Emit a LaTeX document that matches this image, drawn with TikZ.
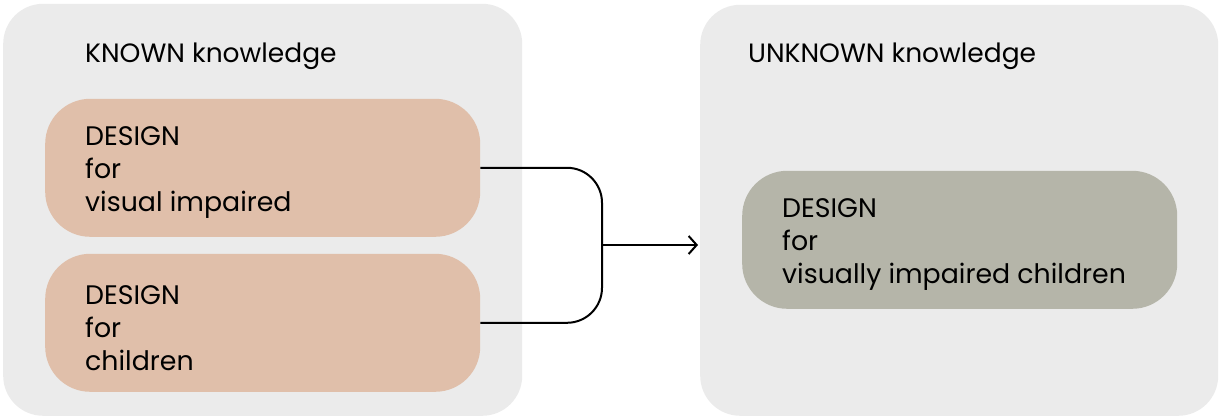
\documentclass[tikz,border=0pt]{standalone}
\usepackage{fontspec}
\setmainfont{Poppins}
\usetikzlibrary{arrows.meta}
\definecolor{panelgray}{HTML}{EBEBEB}
\definecolor{peach}{HTML}{E0BFAA}
\definecolor{sage}{HTML}{B5B5A9}
\begin{document}
\begin{tikzpicture}[x=1pt,y=1pt,
  panel/.style={fill=panelgray, rounded corners=40pt, draw=none},
  pill/.style={rounded corners=45pt, minimum width=435pt, minimum height=138pt, draw=none},
  pilltext/.style={anchor=west, align=left, inner sep=0pt,
    font=\fontsize{26.8}{33}\selectfont},
  title/.style={anchor=base west, font=\fontsize{26.5}{33}\selectfont, inner sep=0pt},
  conn/.style={line width=2pt, draw=black}
]
\useasboundingbox (0,0) rectangle (1220,419);
\node[panel, anchor=south west, minimum width=519pt, minimum height=412pt] (lp) at (3,3) {};
\node[panel, anchor=south west, minimum width=518pt, minimum height=411pt] (rp) at (700,3) {};
\node[title] (lt) at (85,356) {KNOWN knowledge};
\node[title] (rt) at (748,356) {UNKNOWN knowledge};
\node[pill, fill=peach, anchor=south west] (b1) at (45,182) {};
\node[pill, fill=peach, anchor=south west] (b2) at (45,27) {};
\node[pill, fill=sage, anchor=south west] (g) at (742,110) {};
\node[pilltext] (b1t) at ([xshift=40pt,yshift=-5pt]b1.west) {DESIGN\\for\\visual impaired};
\node[pilltext] (b2t) at ([xshift=40pt,yshift=-5pt]b2.west) {DESIGN\\for\\children};
\node[pilltext] (gt) at ([xshift=40pt,yshift=-5pt]g.west) {DESIGN\\for\\visually impaired children};
\coordinate (j) at (602,174);
\draw[conn, rounded corners=35pt] (b1.east) -| (j) |- (b2.east);
\draw[conn, -{Straight Barb[length=8pt,width=18pt]}] (j) -- ([xshift=-2pt]j -| rp.west);
\end{tikzpicture}
\end{document}
